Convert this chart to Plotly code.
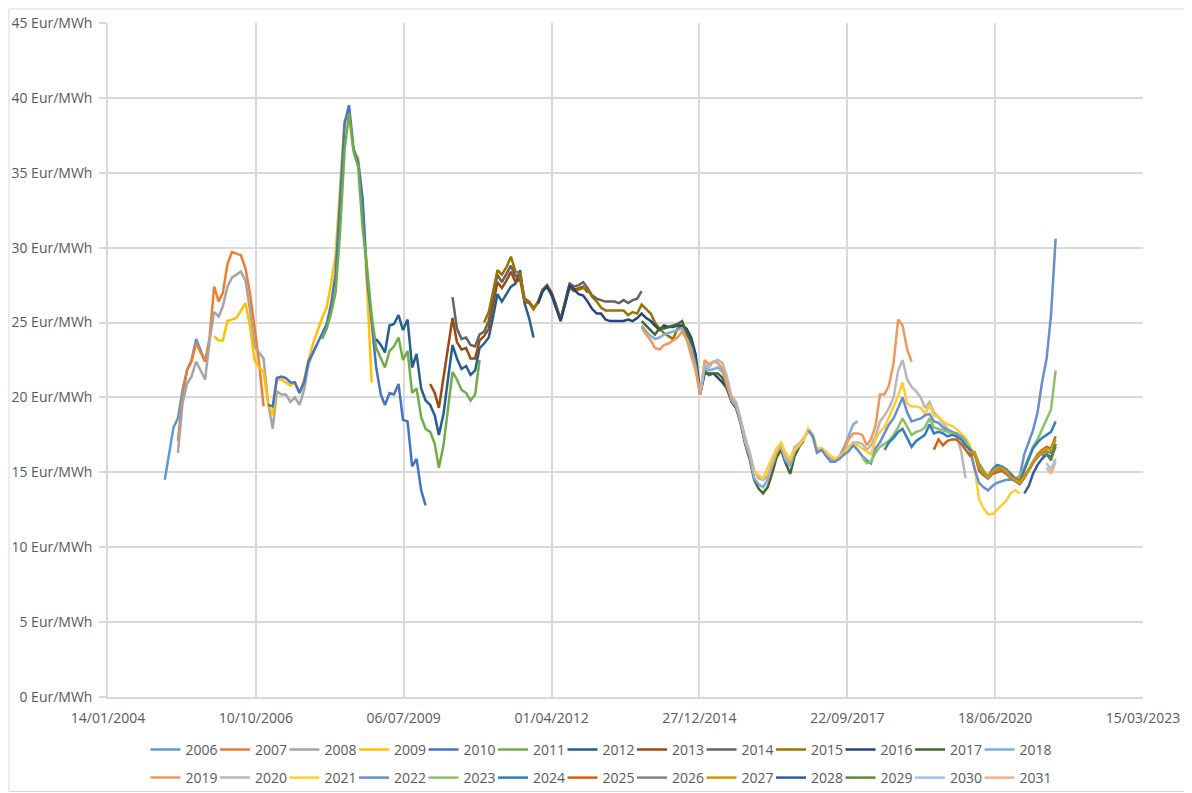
import pandas as pd
import plotly.graph_objects as go

years = [str(y) for y in range(2006, 2032)]
colors = ["#5B9BD5", "#ED7D31", "#A5A5A5", "#FFC000", "#4472C4", "#70AD47",
          "#255E91", "#9E480E", "#636363", "#997300", "#264478", "#43682B",
          "#7CAFDD", "#F1975A", "#B7B7B7", "#FFCD33", "#698ED0", "#8CC168",
          "#327DC2", "#D26012", "#848484", "#CC9A00", "#335AA1", "#5A8A39",
          "#9DC3E6", "#F4B183"]
starts = ["2005-02-01", "2005-05-01", "2005-05-01", "2006-01-01", "2007-01-01",
          "2008-01-01", "2009-01-01", "2010-01-01", "2010-06-01", "2011-01-01",
          "2012-01-01", "2013-12-01", "2013-12-01", "2013-12-01", "2015-01-01",
          "2016-01-01", "2017-01-01", "2018-01-01", "2018-06-01", "2019-05-01",
          "2020-01-01", "2020-01-01", "2021-01-01", "2021-05-01", "2021-06-01",
          "2021-06-01"]

p2006 = [14.5, 16.3, 18.0, 18.6, 20.5, 21.8, 22.5, 23.9, 23.1, 22.4, 23.6]
p2007 = [17.1, 20.0, 21.8, 22.4, 23.6, 23.0, 22.4, 24.0, 27.4, 26.4, 27.0, 28.9,
         29.7, 29.6, 29.5, 28.6, 26.9, 24.7, 22.3, 19.4]
p2008 = [16.3, 19.6, 20.9, 21.4, 22.4, 21.8, 21.2, 23.8, 25.7, 25.4, 26.1, 27.4,
         28.0, 28.2, 28.4, 27.8, 25.8, 23.4, 23.0, 22.6, 19.6, 17.9, 20.4, 20.2,
         20.2, 19.7, 20.0, 19.5, 20.5, 22.2, 23.0, 23.6]
p2009 = [24.1, 23.8, 23.8, 25.1, 25.2, 25.3, 25.8, 26.3, 24.7, 22.5, 22.0, 21.7,
         19.6, 18.8, 21.2, 21.2, 21.0, 20.8, 21.0, 20.3, 21.2, 22.5, 23.6, 24.5,
         25.3, 26.0, 27.5, 29.5, 34.0, 38.5, 38.8, 36.5, 36.0, 33.0, 27.2, 21.0]
p2010 = [19.5, 19.4, 21.3, 21.4, 21.3, 21.0, 21.0, 20.3, 21.0, 22.4, 23.0, 23.6,
         24.2, 24.9, 26.2, 28.2, 33.0, 38.3, 39.5, 36.6, 35.7, 33.3, 28.0, 24.9,
         22.0, 20.2, 19.5, 20.3, 20.2, 20.9, 18.5, 18.4, 15.4, 15.9, 13.8, 12.8]
p2011 = [23.9, 24.6, 25.6, 27.0, 31.0, 36.5, 39.0, 36.4, 35.4, 31.3, 28.6, 25.5,
         23.3, 22.6, 22.0, 23.1, 23.4, 24.0, 22.5, 23.1, 20.3, 20.6, 18.7, 17.9,
         17.7, 16.9, 15.3, 16.8, 19.4, 21.7, 21.2, 20.5, 20.3, 19.8, 20.2, 22.5]
p2012 = [23.9, 23.5, 23.0, 24.8, 24.9, 25.5, 24.5, 25.2, 22.0, 22.9, 20.6, 19.8,
         19.5, 18.8, 17.5, 18.9, 21.2, 23.5, 22.6, 21.9, 22.1, 21.5, 21.8, 23.3,
         23.6, 24.0, 25.3, 26.9, 26.4, 26.9, 27.4, 27.6, 28.5, 26.3, 25.3, 24.0]
p2013 = [20.9, 20.3, 19.3, 21.4, 23.2, 25.3, 23.7, 23.2, 23.3, 22.6, 22.6, 23.8,
         24.1, 24.6, 26.1, 27.7, 27.3, 27.8, 28.4, 27.7, 27.9, 26.4, 26.3, 25.9,
         26.4, 27.2, 27.5, 27.0, 26.2, 25.2, 26.3, 27.5, 27.2, 27.3, 27.4, 27.0]
p2014 = [26.7, 24.6, 23.9, 24.0, 23.5, 23.4, 24.2, 24.4, 25.1, 26.5, 28.2, 27.7,
         28.3, 28.8, 28.1, 28.2, 26.6, 26.4, 26.0, 26.3, 27.1, 27.4, 26.8, 26.0,
         25.2, 26.4, 27.6, 27.4, 27.5, 27.7, 27.3, 26.8, 26.6, 26.5, 26.4, 26.4,
         26.4, 26.3, 26.5, 26.3, 26.5, 26.6, 27.1]
p2015 = [25.0, 25.7, 27.0, 28.5, 28.2, 28.7, 29.4, 28.4, 28.3, 26.5, 26.4, 25.9,
         26.4, 27.2, 27.4, 26.9, 26.1, 25.2, 26.3, 27.3, 27.1, 27.2, 27.3, 27.2,
         26.7, 26.4, 26.0, 25.8, 25.8, 25.8, 25.8, 25.8, 25.5, 25.7, 25.6, 26.2,
         25.9, 25.6, 25.0, 24.6, 24.3, 24.1, 23.9, 24.6, 24.8, 24.3, 23.7, 22.8]
p2016 = [26.3, 27.1, 27.4, 26.9, 26.0, 25.1, 26.2, 27.5, 27.2, 26.9, 26.8, 26.4,
         25.9, 25.6, 25.6, 25.2, 25.1, 25.1, 25.1, 25.1, 25.2, 25.1, 25.3, 25.6,
         25.3, 25.1, 24.8, 24.5, 24.8, 24.7, 24.7, 24.8, 24.8, 24.6, 24.0, 22.9,
         20.3, 21.6, 21.6, 21.6, 21.3, 21.0, 20.6, 19.8, 19.3, 18.4, 17.0, 16.0]
p2017 = [25.1, 24.8, 24.5, 24.2, 24.6, 24.6, 24.7, 24.8, 24.9, 25.1, 24.3, 23.7,
         22.4, 20.2, 21.8, 21.5, 21.6, 21.6, 21.3, 20.6, 19.7, 19.3, 18.3, 16.9,
         15.9, 14.5, 13.9, 13.6, 14.0, 14.9, 16.0, 16.5, 15.6, 14.9, 16.1, 16.7,
         17.1]
p2018 = [24.8, 24.4, 24.1, 23.9, 24.0, 24.2, 24.3, 24.4, 24.5, 24.6, 23.9, 23.3,
         22.1, 20.2, 22.0, 21.8, 21.9, 22.0, 21.7, 21.0, 19.8, 19.4, 18.4, 17.0,
         16.1, 14.6, 14.2, 14.0, 14.5, 15.5, 16.6, 16.7, 15.8, 15.4, 16.4, 16.8,
         17.2, 17.9, 17.5, 16.5, 16.6, 16.2, 15.9, 15.9, 16.1, 16.7, 17.4, 18.2,
         18.4]
p2019 = [24.7, 24.2, 23.8, 23.3, 23.2, 23.5, 23.6, 23.8, 24.0, 24.4, 23.9, 22.8,
         21.8, 20.2, 22.5, 22.2, 22.4, 22.3, 21.9, 20.8, 19.9, 19.6, 18.5, 17.3,
         16.2, 15.1, 14.6, 14.5, 14.7, 15.4, 16.3, 16.8, 16.0, 15.7, 16.6, 16.9,
         17.2, 17.8, 17.4, 16.4, 16.6, 16.1, 15.8, 15.8, 16.0, 16.5, 17.2, 17.6,
         17.6, 17.5, 16.8, 17.2, 18.1, 20.2, 20.2, 20.8, 22.3, 25.2, 24.8, 23.2,
         22.4]
p2020 = [20.4, 22.2, 22.0, 22.4, 22.5, 22.3, 21.4, 20.1, 19.7, 18.6, 17.2, 16.4,
         15.0, 14.7, 14.5, 14.8, 15.6, 16.5, 16.9, 16.0, 15.8, 16.7, 16.9, 17.3,
         17.8, 17.4, 16.4, 16.6, 16.2, 15.8, 15.8, 16.0, 16.3, 16.7, 17.0, 17.0,
         16.9, 16.5, 16.8, 17.4, 18.4, 18.8, 19.3, 20.0, 21.8, 22.5, 21.2, 20.7,
         20.4, 20.0, 19.3, 19.7, 19.0, 18.7, 18.3, 17.9, 17.7, 17.4, 16.4, 14.6]
p2021 = [15.0, 14.8, 14.6, 15.3, 16.0, 16.6, 17.0, 16.3, 15.9, 16.5, 16.8, 17.2,
         17.9, 17.5, 16.6, 16.6, 16.4, 16.1, 15.9, 16.1, 16.3, 16.7, 16.9, 16.8,
         16.6, 16.4, 16.2, 17.2, 17.7, 18.0, 18.7, 19.4, 20.1, 21.0, 19.6, 19.4,
         19.4, 19.3, 18.9, 19.5, 18.8, 18.7, 18.4, 18.2, 18.1, 17.9, 17.6, 17.3,
         16.8, 15.3, 13.2, 12.6, 12.2, 12.2, 12.5, 12.8, 13.1, 13.6, 13.8, 13.6]
p2022 = [17.8, 17.4, 16.3, 16.5, 16.1, 15.7, 15.7, 15.9, 16.2, 16.4, 16.8, 16.5,
         16.1, 15.8, 15.6, 16.6, 17.0, 17.6, 18.2, 18.6, 19.3, 20.0, 19.0, 18.4,
         18.5, 18.6, 18.8, 18.9, 18.4, 18.3, 18.0, 17.8, 17.7, 17.6, 17.4, 17.1,
         16.4, 15.2, 14.3, 14.0, 13.8, 14.1, 14.3, 14.4, 14.5, 14.5, 14.6, 14.7,
         16.2, 17.0, 17.8, 19.0, 21.0, 22.6, 25.5, 30.6]
p2023 = [16.0, 15.6, 15.7, 16.3, 16.7, 16.9, 17.1, 17.5, 18.0, 18.6, 18.0, 17.5,
         17.7, 17.8, 18.0, 18.6, 18.0, 17.9, 17.8, 17.7, 17.6, 17.5, 17.3, 17.0,
         16.6, 16.3, 15.6, 15.1, 14.7, 15.2, 15.4, 15.3, 15.0, 14.7, 14.5, 14.8,
         15.3, 16.0, 16.7, 17.2, 17.9, 18.5, 19.2, 21.8]
p2024 = [16.5, 17.0, 17.3, 17.7, 17.9, 17.3, 16.7, 17.1, 17.3, 17.5, 18.2, 17.6,
         17.7, 17.6, 17.4, 17.5, 17.4, 17.2, 16.8, 16.5, 16.2, 15.5, 15.0, 14.7,
         15.2, 15.5, 15.4, 15.2, 14.9, 14.6, 14.4, 15.1, 15.9, 16.6, 17.0, 17.3,
         17.5, 17.7, 18.4]
p2025 = [16.5, 17.2, 16.8, 17.1, 17.2, 17.2, 16.9, 16.5, 16.1, 16.3, 15.1, 14.8,
         14.6, 14.9, 15.0, 15.1, 14.9, 14.6, 14.6, 14.4, 14.8, 15.2, 15.7, 16.2,
         16.5, 16.7, 16.6, 17.4]
p2026 = [16.3, 16.2, 15.3, 14.9, 14.6, 15.0, 15.2, 15.2, 15.0, 14.6, 14.4, 14.2,
         14.6, 15.1, 15.6, 16.0, 16.3, 16.4, 16.3, 16.9]
p2027 = [16.4, 16.3, 15.4, 15.0, 14.7, 15.1, 15.3, 15.3, 15.1, 14.7, 14.5, 14.3,
         14.7, 15.2, 15.7, 16.1, 16.4, 16.6, 16.5, 17.2]
p2028 = [13.6, 14.1, 14.9, 15.5, 15.9, 16.2, 16.0, 16.7]
p2029 = [16.1, 16.2, 15.8, 16.9]
p2030 = [15.6, 15.2, 15.9]
p2031 = [15.3, 14.9, 15.7]

series = [p2006, p2007, p2008, p2009, p2010, p2011, p2012, p2013, p2014, p2015,
          p2016, p2017, p2018, p2019, p2020, p2021, p2022, p2023, p2024, p2025,
          p2026, p2027, p2028, p2029, p2030, p2031]

FONT = "Open Sans"
TXT = "#595959"
GRID = "#D9D9D9"

# page has an 8px body margin: figure sits at (8, 8)
W, H = 1184, 785
L, R, T, B = 100, 49, 15, 96
PW, PH = W - L - R, H - T - B


def px_x(page_x):
    return (page_x - 8 - L) / PW


def px_y(page_y):
    return (8 + T + PH - page_y) / PH


fig = go.Figure()
for i, (name, col, st, vals) in enumerate(zip(years, colors, starts, series)):
    xs = pd.date_range(st, periods=len(vals), freq="MS")
    fig.add_trace(go.Scatter(
        x=xs, y=vals, mode="lines", name=name,
        line=dict(color=col, width=2.5),
        legend="legend" if i < 13 else "legend2",
    ))
    if i in (12, 25):
        # invisible spacer entry so the last legend label is not clipped
        fig.add_trace(go.Scatter(
            x=["2004-01-14"], y=[None], mode="lines", name=" ",
            line=dict(color="rgba(0,0,0,0)", width=0.1),
            hoverinfo="skip",
            legend="legend" if i < 13 else "legend2",
        ))

legend_common = dict(orientation="h", xanchor="left", yanchor="middle",
                     x=px_x(145.5), entrywidth=24.5, entrywidthmode="pixels",
                     font=dict(family=FONT, size=14, color=TXT),
                     bgcolor="rgba(0,0,0,0)", itemclick=False)

fig.update_layout(
    width=W, height=H,
    margin=dict(l=L, r=R, t=T, b=B, autoexpand=False),
    paper_bgcolor="white", plot_bgcolor="white",
    font=dict(family=FONT, size=14, color=TXT),
    legend=dict(y=px_y(750), **legend_common),
    legend2=dict(y=px_y(778), **legend_common),
    xaxis=dict(
        type="date",
        range=["2004-01-14", "2023-03-15"],
        tick0="2004-01-14", dtick=86400000 * 1000,
        tickformat="%d/%m/%Y",
        showgrid=True, gridcolor=GRID, gridwidth=1.5,
        showline=True, linecolor=GRID, linewidth=1.5,
        ticks="", ticklabelstandoff=7,
        tickfont=dict(family=FONT, size=14, color=TXT),
    ),
    yaxis=dict(
        range=[0, 45], dtick=5, tick0=0,
        ticksuffix=" Eur/MWh",
        showgrid=True, gridcolor=GRID, gridwidth=1.5,
        showline=True, linecolor=GRID, linewidth=1.5,
        ticks="outside", ticklen=7, tickcolor=GRID, tickwidth=1.5,
        ticklabelstandoff=4,
        zeroline=False,
        tickfont=dict(family=FONT, size=14, color=TXT),
    ),
    shapes=[dict(type="rect", xref="paper", yref="paper",
                 x0=px_x(9), x1=px_x(1190.5),
                 y0=px_y(791.5), y1=px_y(9),
                 line=dict(color=GRID, width=1), fillcolor="rgba(0,0,0,0)",
                 layer="below")],
)

fig.write_html("out.html")
